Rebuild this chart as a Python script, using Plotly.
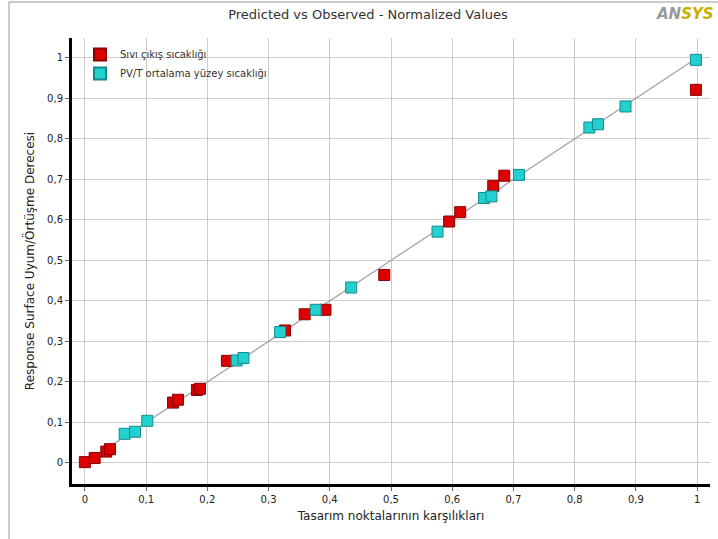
import plotly.graph_objects as go

# Data (observed x, predicted y), normalized
red_name = "Sıvı çıkış sıcaklığı"
red_x = [0.0, 0.016, 0.035, 0.041, 0.144, 0.152, 0.183, 0.188, 0.232, 0.327,
         0.359, 0.393, 0.489, 0.595, 0.613, 0.667, 0.685, 0.998]
red_y = [0.002, 0.012, 0.028, 0.034, 0.149, 0.156, 0.180, 0.183, 0.252, 0.327,
         0.367, 0.378, 0.464, 0.596, 0.619, 0.684, 0.709, 0.921]

cyan_name = "PV/T ortalama yüzey sıcaklığı"
cyan_x = [0.065, 0.082, 0.102, 0.248, 0.259, 0.319, 0.377, 0.435, 0.576,
          0.652, 0.664, 0.709, 0.824, 0.838, 0.883, 0.998]
cyan_y = [0.072, 0.077, 0.104, 0.253, 0.259, 0.323, 0.378, 0.433, 0.571,
          0.654, 0.658, 0.711, 0.828, 0.836, 0.880, 0.995]

ideal_x = [0, 1]
ideal_y = [0, 1]

tick_vals = [0, 0.1, 0.2, 0.3, 0.4, 0.5, 0.6, 0.7, 0.8, 0.9, 1]
tick_text = ["0", "0,1", "0,2", "0,3", "0,4", "0,5", "0,6", "0,7", "0,8", "0,9", "1"]

title_text = "Predicted vs Observed - Normalized Values"
x_title = "Tasarım noktalarının karşılıkları"
y_title = "Response Surface Uyum/Örtüşme Derecesi"

W, H = 718, 539
L, R, T, B = 72, 8, 38, 55
pw, ph = W - L - R, H - T - B

def px2paper_x(px):
    return (px - L) / pw

def px2paper_y(py):
    return (H - B - py) / ph

fig = go.Figure()
fig.add_trace(go.Scatter(x=ideal_x, y=ideal_y, mode="lines",
                         line=dict(color="#a0a0a0", width=1.2),
                         showlegend=False, hoverinfo="skip"))
fig.add_trace(go.Scatter(x=red_x, y=red_y, mode="markers", name=red_name,
                         marker=dict(symbol="square", size=11, color="#dd0000",
                                     line=dict(color="#8a0000", width=1))))
fig.add_trace(go.Scatter(x=cyan_x, y=cyan_y, mode="markers", name=cyan_name,
                         marker=dict(symbol="square", size=11, color="#22d0d0",
                                     line=dict(color="#138a8a", width=1))))

axis_common = dict(
    tickvals=tick_vals, ticktext=tick_text,
    showgrid=True, gridcolor="#cccccc", gridwidth=1,
    zeroline=False, showline=True, linecolor="#000000", linewidth=3,
    ticks="outside", ticklen=4, tickcolor="#666666",
    tickfont=dict(family="DejaVu Sans", size=10, color="#222222"),
    title_font=dict(family="DejaVu Sans", size=12, color="#222222"),
    automargin=False,
)

fig.update_layout(
    width=W, height=H,
    margin=dict(l=L, r=R, t=T, b=B, autoexpand=False),
    paper_bgcolor="white", plot_bgcolor="white",
    separators=", ",
    title=dict(text=title_text, x=px2paper_x(368), xref="paper", xanchor="center",
               y=1 - 14 / H, yref="container", yanchor="middle",
               font=dict(family="DejaVu Sans", size=13, color="#333333"),
               automargin=False),
    xaxis=dict(range=[-0.021, 1.021], title=dict(text=x_title, standoff=8), **axis_common),
    yaxis=dict(range=[-0.052, 1.049], title=dict(text=y_title, standoff=10), **axis_common),
    legend=dict(x=px2paper_x(80), y=px2paper_y(40), xanchor="left", yanchor="top",
                bgcolor="rgba(0,0,0,0)", font=dict(family="DejaVu Sans", size=10, color="#333333"),
                tracegroupgap=0, itemsizing="constant"),
    showlegend=True,
)

# frame lines
fig.add_shape(type="line", xref="paper", yref="paper",
              x0=px2paper_x(9), x1=px2paper_x(9), y0=px2paper_y(2), y1=px2paper_y(539),
              line=dict(color="#999999", width=1))
fig.add_shape(type="line", xref="paper", yref="paper",
              x0=px2paper_x(9), x1=px2paper_x(718), y0=px2paper_y(2), y1=px2paper_y(2),
              line=dict(color="#999999", width=1))

# ANSYS logo text
fig.add_annotation(xref="paper", yref="paper", x=px2paper_x(716), y=px2paper_y(14),
                   xanchor="right", yanchor="middle", showarrow=False,
                   text="<b><i><span style='color:#9a9a9a'>AN</span><span style='color:#c9b000'>SYS</span></i></b>",
                   font=dict(family="DejaVu Sans", size=15))

fig.write_html("out.html", config={"displayModeBar": False},
               post_script="document.body.style.margin='0';document.body.style.padding='0';")
